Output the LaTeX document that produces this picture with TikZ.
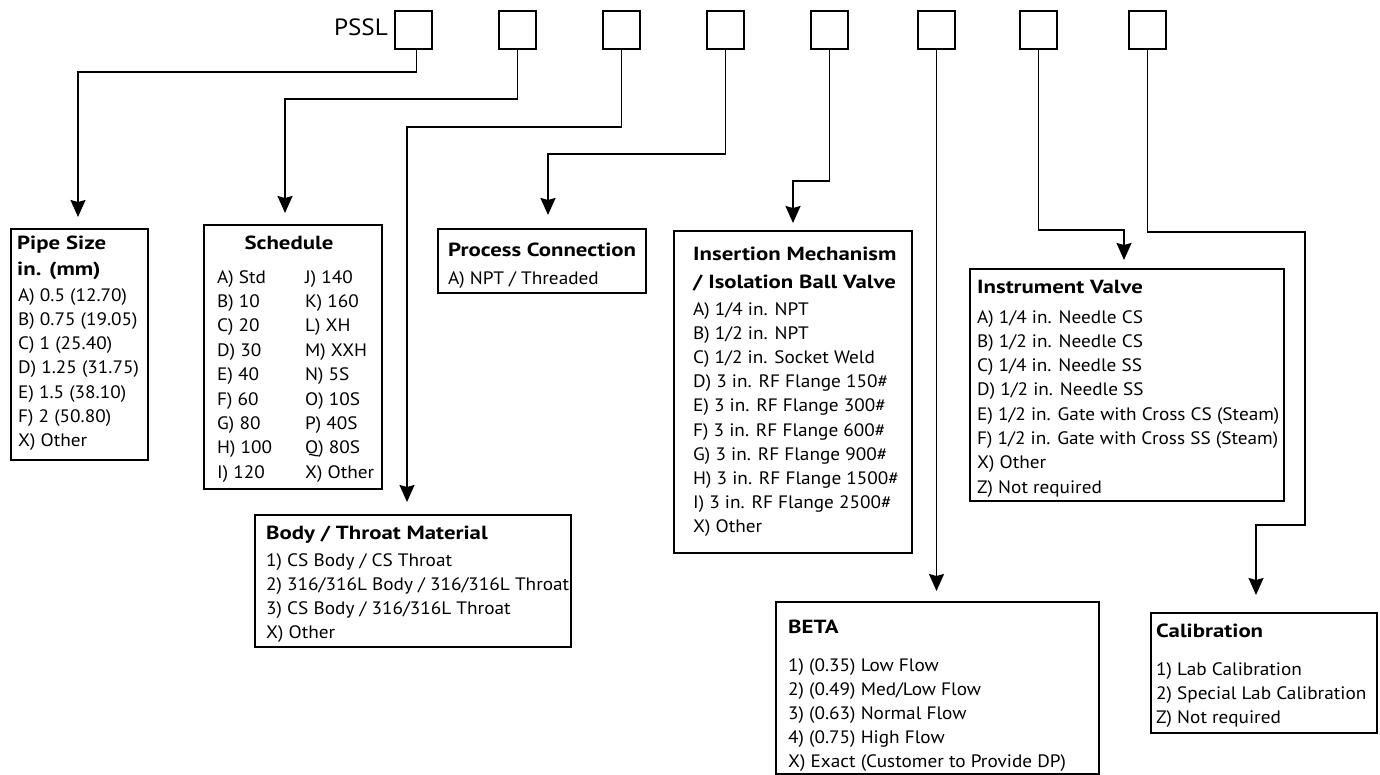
\documentclass[tikz,border=0pt]{standalone}
\usepackage{fontspec}
\setmainfont[FakeStretch=1.07]{PT Sans}
\newfontfamily\ttlfont[FakeStretch=1.2]{PT Sans}
\usetikzlibrary{arrows.meta,calc}
\tikzset{
 codebox/.style={draw, line width=2pt, minimum width=37pt, minimum height=38pt, inner sep=0pt, anchor=north west},
 optbox/.style={draw, line width=2pt, inner sep=0pt, anchor=north west},
 conn/.style={line width=1.8pt, -{Stealth[length=17pt,width=15pt,inset=2pt]}},
 ttl/.style={font=\ttlfont\fontsize{19}{21}\selectfont\bfseries, anchor=base west, inner sep=0pt},
 itm/.style={font=\fontsize{18}{20}\selectfont, anchor=base west, inner sep=0pt},
}
\newcommand\optlines[5]{%
 \foreach \opt [count=\i] in {#5} {\node[itm] (#1\i) at (#2,{#3+(\i-1)*#4}) {\opt};}}
\begin{document}
\begin{tikzpicture}[x=1pt,y=-1pt]
\useasboundingbox (0,0) rectangle (1380,774);
% code boxes
\node[anchor=base east, inner sep=0pt, font=\fontsize{23.5}{26}\selectfont] (pssl) at (388,35) {PSSL};
\node[codebox] (c1) at (394,10) {};
\node[codebox] (c2) at (498,10) {};
\node[codebox] (c3) at (602,10) {};
\node[codebox] (c4) at (706,10) {};
\node[codebox] (c5) at (810,10) {};
\node[codebox] (c6) at (917,10) {};
\node[codebox] (c7) at (1019,10) {};
\node[codebox] (c8) at (1128,10) {};
% option boxes
\node[optbox, minimum width=137pt, minimum height=231pt] (pipe) at (10,228) {};
\node[optbox, minimum width=178pt, minimum height=264pt] (sched) at (203,224) {};
\node[optbox, minimum width=316pt, minimum height=132pt] (body) at (254,514) {};
\node[optbox, minimum width=208pt, minimum height=64pt] (proc) at (437,228) {};
\node[optbox, minimum width=238pt, minimum height=322pt] (ins) at (673,230) {};
\node[optbox, minimum width=314pt, minimum height=232pt] (inst) at (969,268) {};
\node[optbox, minimum width=323pt, minimum height=172pt] (beta) at (775,601) {};
\node[optbox, minimum width=226pt, minimum height=120pt] (cal) at (1150,612) {};
% texts
\node[ttl] (pipeT1) at (17,249) {Pipe Size};
\node[ttl] (pipeT2) at (17,275) {in. (mm)};
\optlines{pipe}{18}{301}{24.33}{A) 0.5 (12.70),B) 0.75 (19.05),C) 1 (25.40),D) 1.25 (31.75),E) 1.5 (38.10),F) 2 (50.80),X) Other}
\node[ttl, anchor=base] (schedT) at (289,249) {Schedule};
\optlines{schA}{217}{283}{24.4}{A) Std,B) 10,C) 20,D) 30,E) 40,F) 60,G) 80,H) 100,I) 120}
\optlines{schB}{305}{283}{24.4}{J) 140,K) 160,L) XH,M) XXH,N) 5S,O) 10S,P) 40S,Q) 80S,X) Other}
\node[ttl] (procT) at (448,256) {Process Connection};
\node[itm] (proc1) at (448,284) {A) NPT / Threaded};
\node[ttl] (insT1) at (693,260) {Insertion Mechanism};
\node[ttl] (insT2) at (693,288) {/ Isolation Ball Valve};
\optlines{ins}{693}{315}{24.2}{A) 1/4 in. NPT,B) 1/2 in. NPT,C) 1/2 in. Socket Weld,D) 3 in. RF Flange 150\#,E) 3 in. RF Flange 300\#,F) 3 in. RF Flange 600\#,G) 3 in. RF Flange 900\#,H) 3 in. RF Flange 1500\#,I) 3 in. RF Flange 2500\#,X) Other}
\node[ttl] (instT) at (977,293) {Instrument Valve};
\optlines{inst}{977}{323}{24.3}{A) 1/4 in. Needle CS,B) 1/2 in. Needle CS,C) 1/4 in. Needle SS,D) 1/2 in. Needle SS,E) 1/2 in. Gate with Cross CS (Steam),F) 1/2 in. Gate with Cross SS (Steam),X) Other,Z) Not required}
\node[ttl] (bodyT) at (266,539) {Body / Throat Material};
\optlines{body}{266}{566}{24}{1) CS Body / CS Throat,2) 316/316L Body / 316/316L Throat,3) CS Body / 316/316L Throat,X) Other}
\node[ttl] (betaT) at (788,633) {BETA};
\optlines{beta}{788}{671}{24}{1) (0.35) Low Flow,2) (0.49) Med/Low Flow,3) (0.63) Normal Flow,4) (0.75) High Flow,X) Exact (Customer to Provide DP)}
\node[ttl] (calT) at (1156,637) {Calibration};
\optlines{cal}{1156}{675}{24}{1) Lab Calibration,2) Special Lab Calibration,Z) Not required}
% arrow end points
\coordinate (t1) at ($(pipe.north)+(-1.5,-11)$);
\coordinate (t2) at ($(sched.north)+(-8,-11)$);
\coordinate (t3) at ($(body.north)+(-6,-12)$);
\coordinate (t4) at ($(proc.north)+(6,-13)$);
\coordinate (t5) at ($(ins.north)+(0,-7)$);
\coordinate (t6) at ($(beta.north)+(0,-10)$);
\coordinate (t7) at ($(inst.north)+(-3,-8)$);
\coordinate (t8) at ($(cal.north)+(-8,-17)$);
% connectors
\draw[conn] ([xshift=3pt]c1.south) -- ++(0,22) -| (t1);
\draw[conn] (c2.south) -- ++(0,49) -| (t2);
\draw[conn] (c3.south) -- ++(0,77) -| (t3);
\draw[conn] (c4.south) -- ++(0,104) -| (t4);
\draw[conn] (c5.south) -- ++(0,131) -| (t5);
\draw[conn] (c6.south) -- (c6.south |- t6);
\draw[conn] (c7.south) -- ++(0,180) -| (t7);
\draw[conn] (c8.south) -- ++(0,182) -- ++(157.5,0) -- ++(0,293) -| (t8);
\end{tikzpicture}
\end{document}
